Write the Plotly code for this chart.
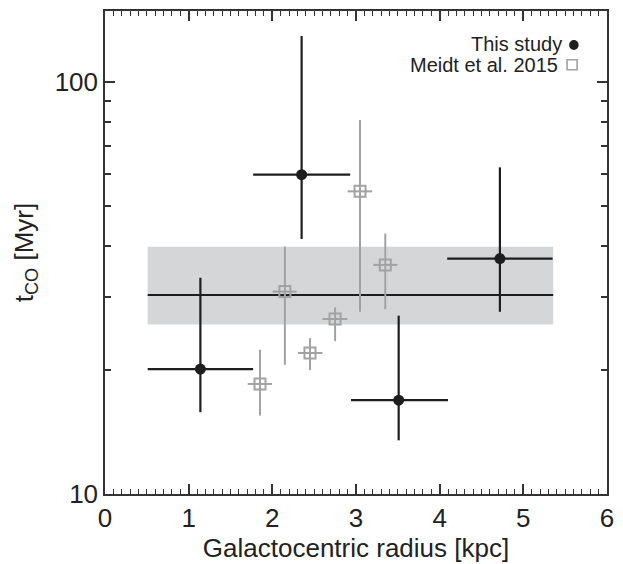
import plotly.graph_objects as go

# This study (black points)
r_this = [1.14, 2.35, 3.51, 4.72]
r_this_lo = [0.51, 1.77, 2.94, 4.09]
r_this_hi = [1.77, 2.93, 4.10, 5.35]
t_this = [20.1, 59.6, 16.9, 37.3]
t_this_lo = [15.8, 41.6, 13.5, 27.7]
t_this_hi = [33.5, 129.4, 27.1, 62.1]

# Meidt et al. 2015 (grey squares)
r_meidt = [1.853, 2.15, 2.45, 2.75, 3.048, 3.35]
r_meidt_lo = [1.706, 2.004, 2.306, 2.599, 2.90, 3.206]
r_meidt_hi = [1.996, 2.29, 2.599, 2.896, 3.194, 3.496]
t_meidt = [18.5, 31.0, 22.0, 26.6, 54.3, 36.0]
t_meidt_lo = [15.5, 20.6, 20.0, 23.5, 27.7, 28.1]
t_meidt_hi = [22.4, 39.9, 23.9, 28.4, 80.9, 42.9]

# Mean and its band
band_r = [0.51, 5.357]
mean_t = [30.4, 30.4]
band_lo = [25.8, 25.8]
band_hi = [39.85, 39.85]

BLACK = "#1e1e1e"
GREY = "#a2a2a2"
BAND = "#d5d6d8"
FONT = "Liberation Sans, Arial, Helvetica, sans-serif"

fig = go.Figure()

fig.add_trace(go.Scatter(x=band_r, y=band_lo, mode="lines", line=dict(width=0, color=BAND),
                         hoverinfo="skip", showlegend=False))
fig.add_trace(go.Scatter(x=band_r, y=band_hi, mode="lines", line=dict(width=0, color=BAND),
                         fill="tonexty", fillcolor=BAND, hoverinfo="skip", showlegend=False))
fig.add_trace(go.Scatter(x=band_r, y=mean_t, mode="lines", line=dict(width=2, color=BLACK),
                         showlegend=False))

def errs(v, lo, hi):
    return [h - c for c, h in zip(v, hi)], [c - l for c, l in zip(v, lo)]

ey_p, ey_m = errs(t_meidt, t_meidt_lo, t_meidt_hi)
ex_p, ex_m = errs(r_meidt, r_meidt_lo, r_meidt_hi)
fig.add_trace(go.Scatter(
    x=r_meidt, y=t_meidt, mode="markers", name="Meidt et al. 2015",
    marker=dict(symbol="square-open", size=11, color=GREY, line=dict(width=2, color=GREY)),
    error_y=dict(type="data", symmetric=False, array=ey_p, arrayminus=ey_m, color=GREY, thickness=2, width=0),
    error_x=dict(type="data", symmetric=False, array=ex_p, arrayminus=ex_m, color=GREY, thickness=2, width=0),
    showlegend=False))

ey_p, ey_m = errs(t_this, t_this_lo, t_this_hi)
ex_p, ex_m = errs(r_this, r_this_lo, r_this_hi)
fig.add_trace(go.Scatter(
    x=r_this, y=t_this, mode="markers", name="This study",
    marker=dict(symbol="circle", size=11, color=BLACK),
    error_y=dict(type="data", symmetric=False, array=ey_p, arrayminus=ey_m, color=BLACK, thickness=2.2, width=0),
    error_x=dict(type="data", symmetric=False, array=ex_p, arrayminus=ex_m, color=BLACK, thickness=2.2, width=0),
    showlegend=False))

axis_common = dict(
    showline=True, linecolor="#333333", linewidth=1.5, mirror="ticks",
    ticks="inside", ticklen=10, tickwidth=1.5, tickcolor="#333333",
    showgrid=False, zeroline=False,
    tickfont=dict(family=FONT, size=26, color="#222222"),
)

fig.update_xaxes(
    range=[0, 6], tickvals=[0, 1, 2, 3, 4, 5, 6],
    minor=dict(ticks="inside", dtick=0.1, ticklen=5, tickwidth=1.2, tickcolor="#333333", showgrid=False),
    title=dict(text="Galactocentric radius [kpc]", font=dict(family=FONT, size=26, color="#222222"), standoff=4),
    **axis_common)
fig.update_yaxes(
    type="log", range=[1, 2.1727], tickvals=[10, 100], ticktext=["10", "100"],
    minor=dict(ticks="inside", tickvals=[20, 30, 40, 50, 60, 70, 80, 90], ticklen=6, tickwidth=1.5,
               tickcolor="#333333", showgrid=False),
    title=dict(text="t<sub>CO</sub> [Myr]", font=dict(family=FONT, size=26, color="#222222"), standoff=14),
    **axis_common)

# legend text (top right)
fig.add_annotation(xref="paper", yref="paper", x=0.9148, y=0.932, xanchor="right", yanchor="middle",
                   text="This study", showarrow=False, font=dict(family=FONT, size=20, color="#222222"))
fig.add_annotation(xref="paper", yref="paper", x=0.9068, y=0.889, xanchor="right", yanchor="middle",
                   text="Meidt et al. 2015", showarrow=False, font=dict(family=FONT, size=20, color="#222222"))
fig.add_shape(type="circle", xref="paper", yref="paper", x0=0.9245, x1=0.9435, y0=0.9195, y1=0.9400,
              fillcolor=BLACK, line=dict(width=0))
fig.add_shape(type="rect", xref="paper", yref="paper", x0=0.9205, x1=0.9405, y0=0.8785, y1=0.8990,
              fillcolor="rgba(0,0,0,0)", line=dict(width=1.6, color=GREY))

fig.update_layout(
    width=623, height=564, autosize=False,
    margin=dict(l=105, r=14, t=9, b=66),
    paper_bgcolor="white", plot_bgcolor="white",
    font=dict(family=FONT),
)

fig.write_html("out.html", config={"displayModeBar": False},
               post_script="document.body.style.margin='0';document.body.style.padding='0';document.body.style.overflow='hidden';")
